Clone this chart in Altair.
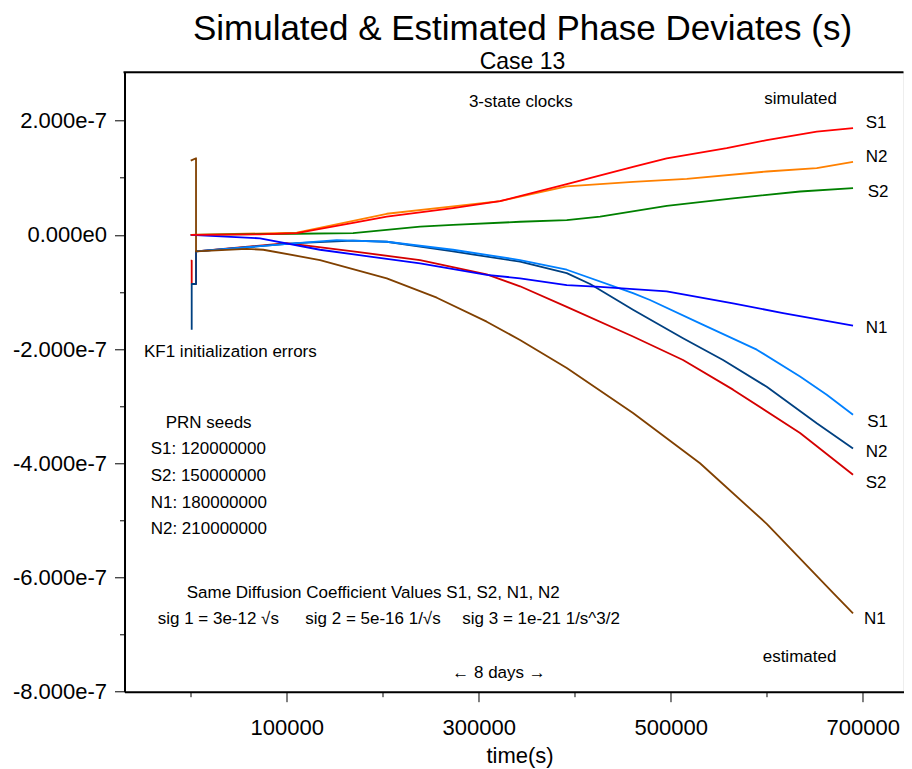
import altair as alt
import pandas as pd

# ---------------- data: time (s) and phase (units of 1e-7 s) ----------------
s1_sim_t = [0, 72200, 110400, 169100, 204200, 273200, 322200, 391700, 460700, 495800, 558300, 600000, 652100, 689900]
s1_sim = [0, 0.01, 0.03, 0.21, 0.32, 0.47, 0.59, 0.89, 1.19, 1.34, 1.52, 1.66, 1.81, 1.87]

n2_sim_t = [0, 110400, 204200, 273200, 322200, 343000, 391700, 460700, 516700, 600000, 652100, 689900]
n2_sim = [0, 0.04, 0.37, 0.50, 0.59, 0.67, 0.85, 0.93, 0.98, 1.11, 1.17, 1.28]

s2_sim_t = [0, 110400, 169100, 238900, 273200, 343000, 391700, 426400, 495800, 564900, 634700, 689900]
s2_sim = [0, 0.02, 0.03, 0.145, 0.175, 0.23, 0.26, 0.32, 0.51, 0.64, 0.76, 0.82]

n1_sim_t = [0, 72200, 134600, 186800, 238900, 308300, 343000, 391700, 426400, 495800, 564900, 617000, 689900]
n1_sim = [0, -0.06, -0.26, -0.38, -0.50, -0.70, -0.76, -0.88, -0.91, -0.99, -1.20, -1.37, -1.59]

s1_est_t = [5500, 110400, 152100, 204200, 273200, 343000, 391700, 460700, 478400, 530500, 589600, 634700, 662500, 689900]
s1_est = [-0.29, -0.145, -0.09, -0.12, -0.26, -0.44, -0.61, -1.02, -1.14, -1.55, -2.01, -2.48, -2.80, -3.15]

n2_est_t = [5500, 110400, 169100, 204200, 273200, 343000, 391700, 416000, 443800, 460700, 512800, 554500, 600000, 652100, 689900]
n2_est = [-0.29, -0.145, -0.10, -0.12, -0.29, -0.47, -0.67, -0.86, -1.14, -1.31, -1.81, -2.19, -2.66, -3.30, -3.74]

s2_est_t = [5500, 100000, 169100, 238900, 308300, 343000, 391700, 460700, 512800, 564900, 634700, 689900]
s2_est = [-0.29, -0.145, -0.29, -0.44, -0.69, -0.90, -1.26, -1.78, -2.19, -2.71, -3.47, -4.20]

n1_est_t = [5500, 58300, 75600, 134700, 204200, 256300, 308300, 343000, 391700, 460700, 530500, 600000, 669100, 689900]
n1_est = [-0.29, -0.245, -0.26, -0.44, -0.76, -1.10, -1.52, -1.84, -2.33, -3.12, -4.00, -5.06, -6.27, -6.63]

# KF1 initialization transients (prefix points before the estimate settles)
s2_init_t = [0, 1000, 1000, 5500]
s2_init_v = [-0.45, -0.45, -0.86, -0.86]
n2_init_t = [1000, 1000, 5500]
n2_init_v = [-1.66, -0.86, -0.86]
n1_init_t = [0, 5500]
n1_init_v = [1.30, 1.343]

series_names = ["S2 estimated", "N2 estimated", "S1 estimated", "N1 estimated",
                "N2 simulated", "S2 simulated", "N1 simulated", "S1 simulated"]
series_colors = ["#D40000", "#004080", "#0080FF", "#804000",
                 "#FF8000", "#008000", "#0000FF", "#FF0000"]

# ---------------- build table ----------------
rows = []
def add(name, ts, vs):
    for k, (t, v) in enumerate(zip(ts, vs)):
        rows.append({"series": name, "t": t, "v": v * 1e-7, "i": k})

add("S2 estimated", s2_init_t + s2_est_t, s2_init_v + s2_est)
add("N2 estimated", n2_init_t + n2_est_t, n2_init_v + n2_est)
add("S1 estimated", s1_est_t, s1_est)
add("N1 estimated", n1_init_t + n1_est_t, n1_init_v + n1_est)
add("N2 simulated", n2_sim_t, n2_sim)
add("S2 simulated", s2_sim_t, s2_sim)
add("N1 simulated", n1_sim_t, n1_sim)
add("S1 simulated", s1_sim_t, s1_sim)
df = pd.DataFrame(rows)

W = 779
H = 619.4
FONT = "Liberation Sans"
X0 = -69000
X1 = X0 + W / 0.00096

x_vals = [k * 100000 for k in range(0, 8)]
y_vals = [round(k * 1e-7, 12) for k in range(-8, 3)]

x_axis = alt.Axis(
    values=x_vals,
    labelExpr="datum.value % 200000 === 100000 ? format(datum.value, 'd') : ''",
    tickSize={"condition": {"test": "datum.value % 200000 === 100000", "value": 10}, "value": 5},
    labelFont=FONT, labelFontSize=22, labelColor="black", labelPadding=16,
    tickColor="black", tickWidth=1, domainColor="black", domainWidth=2,
    grid=False, title=None, labelFlush=False, labelOverlap=False,
)
y_axis = alt.Axis(
    values=y_vals,
    labelExpr="abs(round(datum.value*1e7)) % 2 === 1 ? '' : replace(replace(format(datum.value, '.3e'), 'e+', 'e'), '\u2212', '-')",
    tickSize={"condition": {"test": "abs(round(datum.value*1e7)) % 2 === 0", "value": 10}, "value": 5},
    labelFont=FONT, labelFontSize=22, labelColor="black", labelPadding=8,
    tickColor="black", tickWidth=1, domainColor="black", domainWidth=2,
    grid=False, title=None, labelFlush=False, labelOverlap=False,
)

lines = alt.Chart(df).mark_line(strokeWidth=1.8, strokeJoin="round").encode(
    x=alt.X("t:Q", scale=alt.Scale(domain=[X0, X1], nice=False, zero=False), axis=x_axis),
    y=alt.Y("v:Q", scale=alt.Scale(domain=[-8e-7, 2.8476e-7], nice=False, zero=False), axis=y_axis),
    color=alt.Color("series:N", scale=alt.Scale(domain=series_names, range=series_colors), legend=None),
    order=alt.Order("i:Q"),
)

top_border = alt.Chart(pd.DataFrame({"a": [0]})).mark_rule(color="black", strokeWidth=2).encode(
    x=alt.value(-1), x2=alt.value(W), y=alt.value(0)
)

def label(text, x, y, size=17, align="left", baseline="middle"):
    return alt.Chart(pd.DataFrame({"txt": [text]})).mark_text(
        font=FONT, fontSize=size, align=align, baseline=baseline, color="black"
    ).encode(x=alt.value(x), y=alt.value(y), text="txt:N")

texts = [
    label("Simulated & Estimated Phase Deviates (s)", 398, -31.8, size=35, align="center", baseline="alphabetic"),
    label("Case 13", 398, -2.8, size=23, align="center", baseline="alphabetic"),
    label("3-state clocks", 396.3, 29.4, align="center"),
    label("simulated", 639.8, 27),
    label("estimated", 638.2, 585),
    label("S1", 741.2, 51),
    label("N2", 741.2, 85),
    label("S2", 743.2, 120),
    label("N1", 741.2, 256),
    label("S1", 742.8, 350),
    label("N2", 741.2, 380),
    label("S2", 741.2, 410.4),
    label("N1", 739.5, 546.7),
    label("KF1 initialization errors", 19.5, 279.4),
    label("PRN seeds", 41.2, 350.4),
    label("S1: 120000000", 26.2, 377),
    label("S2: 150000000", 26.2, 403.7),
    label("N1: 180000000", 26.2, 430.4),
    label("N2: 210000000", 26.2, 457),
    label("Same Diffusion Coefficient Values S1, S2, N1, N2", 62.2, 520.4),
    label("sig 1 = 3e-12 \u221as", 33.2, 547),
    label("sig 2 = 5e-16 1/\u221as", 180.8, 547),
    label("sig 3 = 1e-21 1/s^3/2", 337.8, 547),
    label("\u2190 8 days \u2192", 327.8, 600.4),
    label("time(s)", 395.5, 690.5, size=22, align="center", baseline="alphabetic"),
]

chart = alt.layer(lines, top_border, *texts).properties(
    width=W, height=H,
    autosize=alt.AutoSizeParams(type="none"),
    padding={"left": 116.5, "top": 64.3, "right": 0, "bottom": 77},
).configure_view(stroke=None).configure(background="white")

chart.save("out.html", embed_options={"renderer": "svg", "actions": False})
